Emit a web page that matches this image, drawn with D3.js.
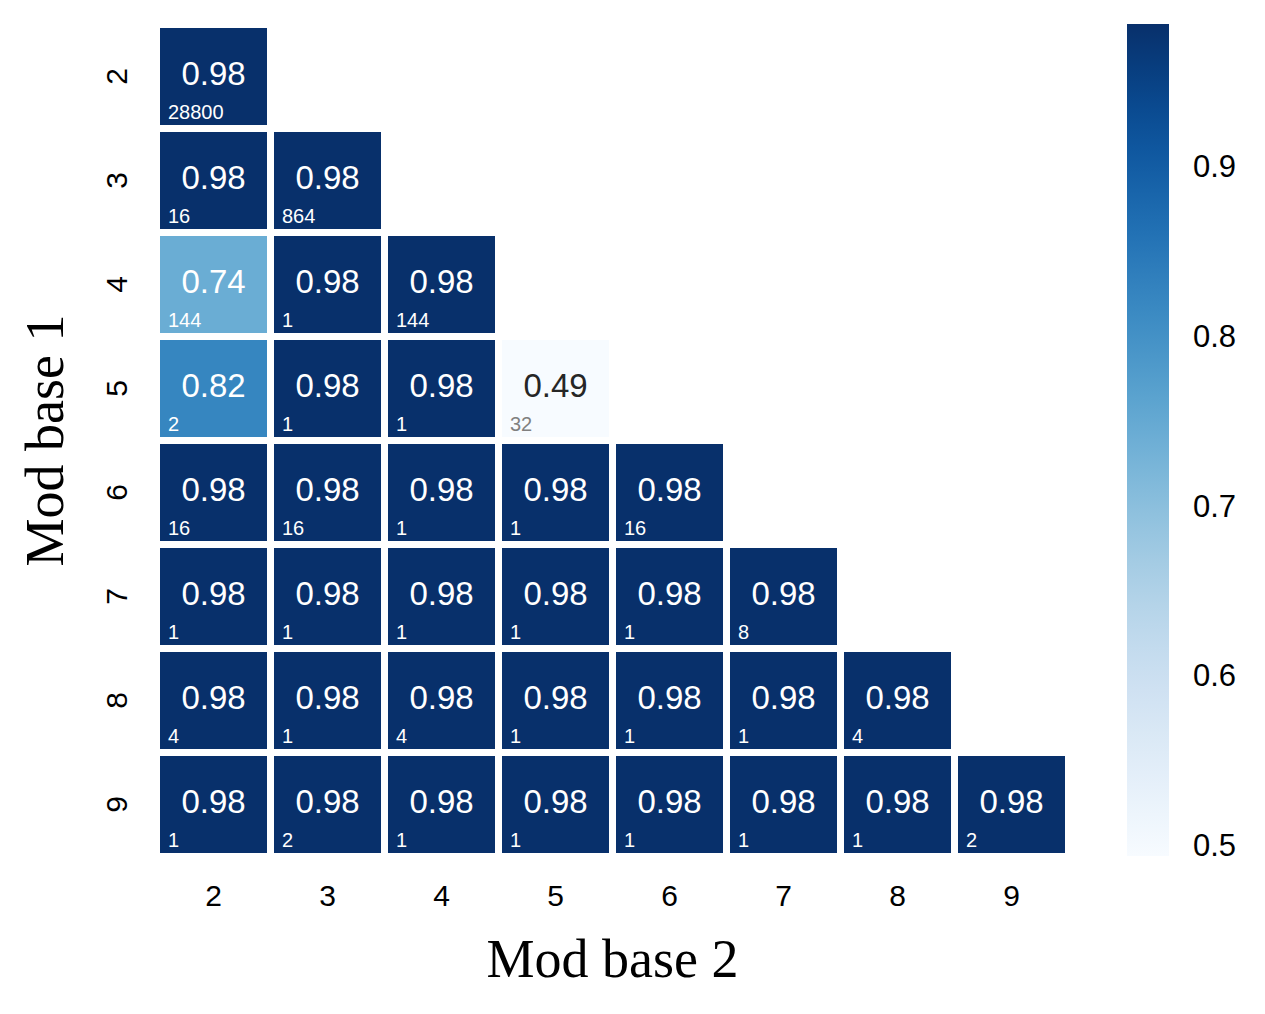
<!DOCTYPE html>
<html>
<head>
<meta charset="utf-8">
<script src="https://cdn.jsdelivr.net/npm/d3@7"></script>
<style>
  body { margin: 0; background: #fff; }
  svg text { font-family: "Liberation Sans", Arial, Helvetica, sans-serif; }
</style>
</head>
<body>
<div id="heatmap"></div>
<script>
// categories (mod bases) and per-row values of the lower triangle
const bases1 = [2, 3, 4, 5, 6, 7, 8, 9];
const bases2 = [2, 3, 4, 5, 6, 7, 8, 9];

const scoreRows = [
  [0.984],
  [0.984, 0.984],
  [0.742, 0.984, 0.984],
  [0.823, 0.984, 0.984, 0.494],
  [0.984, 0.984, 0.984, 0.984, 0.984],
  [0.984, 0.984, 0.984, 0.984, 0.984, 0.984],
  [0.984, 0.984, 0.984, 0.984, 0.984, 0.984, 0.984],
  [0.984, 0.984, 0.984, 0.984, 0.984, 0.984, 0.984, 0.984]
];

const countRows = [
  [28800],
  [16, 864],
  [144, 1, 144],
  [2, 1, 1, 32],
  [16, 16, 1, 1, 16],
  [1, 1, 1, 1, 1, 8],
  [4, 1, 4, 1, 1, 1, 4],
  [1, 2, 1, 1, 1, 1, 1, 2]
];

const colorbarTicks = [0.5, 0.6, 0.7, 0.8, 0.9];

// flatten into cells
let cells = [];
scoreRows.forEach(function (row, i) {
  row.forEach(function (v, j) {
    cells.push({ b1: bases1[i], b2: bases2[j], value: v, count: countRows[i][j] });
  });
});

// set the dimensions of the graph
const W = 1265, H = 1014;
const margin = { top: 24.5, left: 156.5 },
  gridW = 912, gridH = 832;
const gap = 7;

const svg = d3.select("#heatmap")
  .append("svg")
  .attr("width", W)
  .attr("height", H);

const g = svg.append("g")
  .attr("transform", "translate(" + margin.left + "," + margin.top + ")");

// scales
const x = d3.scaleBand().domain(bases2).range([0, gridW]);
const y = d3.scaleBand().domain(bases1).range([0, gridH]);

const vmin = d3.min(cells, d => d.value), vmax = d3.max(cells, d => d.value);
const color = d3.scaleSequential(d3.interpolateBlues).domain([vmin, vmax]);

// cells
const cell = g.selectAll("g.cell")
  .data(cells)
  .enter()
  .append("g")
  .attr("class", "cell")
  .attr("transform", d => "translate(" + x(d.b2) + "," + y(d.b1) + ")");

cell.append("rect")
  .attr("x", gap / 2)
  .attr("y", gap / 2)
  .attr("width", x.bandwidth() - gap)
  .attr("height", y.bandwidth() - gap)
  .style("fill", d => color(d.value));

function isLight(v) {
  const c = d3.rgb(color(v));
  const lum = 0.2126 * c.r + 0.7152 * c.g + 0.0722 * c.b;
  return lum > 200;
}

cell.append("text")
  .attr("x", x.bandwidth() / 2)
  .attr("y", y.bandwidth() / 2 + 8.5)
  .attr("text-anchor", "middle")
  .style("font-size", "33px")
  .style("fill", d => isLight(d.value) ? "#262626" : "#ffffff")
  .text(d => d3.format(".2f")(d.value));

cell.append("text")
  .attr("x", 11.5)
  .attr("y", y.bandwidth() - 9.5)
  .style("font-size", "20px")
  .style("fill", d => isLight(d.value) ? "#808080" : "#ffffff")
  .text(d => d.count);

// X axis
const xAxis = g.append("g")
  .attr("transform", "translate(0," + gridH + ")")
  .call(d3.axisBottom(x).tickSize(0).tickPadding(0));
xAxis.select(".domain").remove();
xAxis.selectAll("text")
  .attr("dy", 0)
  .attr("y", 49)
  .style("font-size", "30px")
  .style("fill", "#000");

// Y axis with rotated labels
const yAxis = g.append("g")
  .call(d3.axisLeft(y).tickSize(0).tickPadding(0));
yAxis.select(".domain").remove();
yAxis.selectAll("text")
  .attr("transform", "rotate(-90)")
  .attr("x", 0)
  .attr("y", -29.5)
  .attr("dy", 0)
  .attr("text-anchor", "middle")
  .style("font-size", "30px")
  .style("fill", "#000");

// axis titles
svg.append("text")
  .attr("x", margin.left + gridW / 2)
  .attr("y", 977)
  .attr("text-anchor", "middle")
  .style("font-family", "'Liberation Serif', 'Times New Roman', serif")
  .style("font-size", "54px")
  .style("fill", "#000")
  .text("Mod base 2");

svg.append("text")
  .attr("transform", "translate(63," + (margin.top + gridH / 2) + ") rotate(-90)")
  .attr("text-anchor", "middle")
  .style("font-family", "'Liberation Serif', 'Times New Roman', serif")
  .style("font-size", "54px")
  .style("fill", "#000")
  .text("Mod base 1");

// colorbar
const cbX = 1127, cbW = 42, cbTop = 24, cbBottom = 856;
const cbScale = d3.scaleLinear().domain([vmin, vmax]).range([cbBottom, cbTop]);

const grad = svg.append("defs").append("linearGradient")
  .attr("id", "cbGrad")
  .attr("x1", "0%").attr("y1", "100%")
  .attr("x2", "0%").attr("y2", "0%");
grad.selectAll("stop")
  .data(d3.range(0, 1.0001, 0.05))
  .enter()
  .append("stop")
  .attr("offset", t => (t * 100) + "%")
  .attr("stop-color", t => d3.interpolateBlues(t));

svg.append("rect")
  .attr("x", cbX)
  .attr("y", cbTop)
  .attr("width", cbW)
  .attr("height", cbBottom - cbTop)
  .style("fill", "url(#cbGrad)");

const cbAxis = svg.append("g")
  .attr("transform", "translate(" + (cbX + cbW) + ",0)")
  .call(d3.axisRight(cbScale).tickValues(colorbarTicks).tickSize(0).tickPadding(24)
    .tickFormat(d3.format(".1f")));
cbAxis.select(".domain").remove();
cbAxis.selectAll("text")
  .style("font-size", "31px")
  .style("fill", "#000");
</script>
</body>
</html>
